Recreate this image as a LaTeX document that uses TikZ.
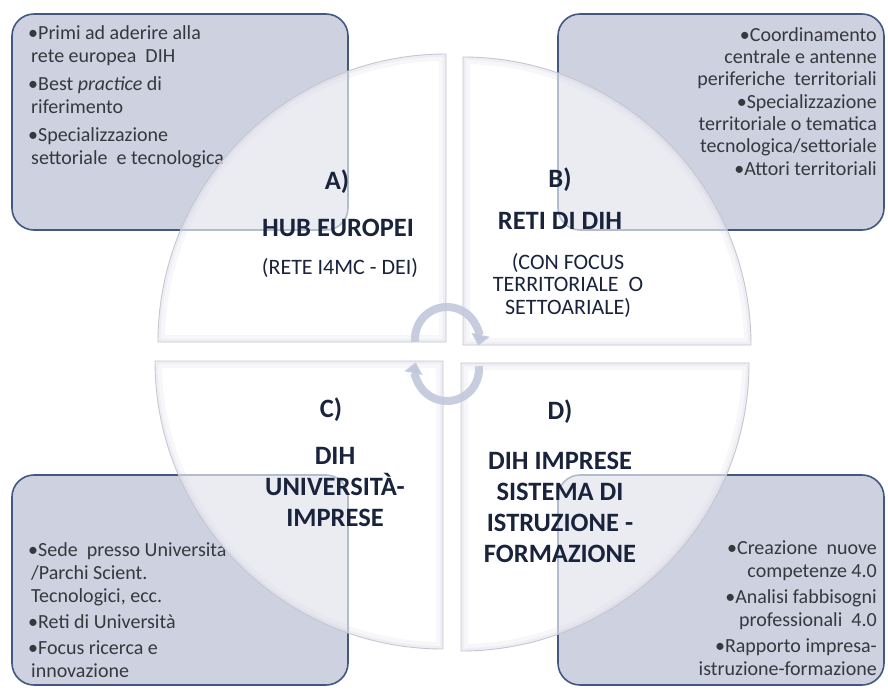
\documentclass[tikz,border=0pt]{standalone}
\usepackage{fontspec}
\setmainfont{Carlito}
\usetikzlibrary{arrows.meta}
\definecolor{boxfill}{RGB}{206,209,224}
\definecolor{boxline}{RGB}{66,88,128}
\definecolor{navy}{RGB}{25,35,60}
\definecolor{btext}{RGB}{55,55,62}
\definecolor{qline}{RGB}{198,198,206}
\definecolor{glow}{RGB}{196,196,222}
\definecolor{arrowc}{RGB}{194,200,220}
\newcommand\drawquad[1]{%
  \fill[white,fill opacity=0.6] #1;
  \begin{scope}
    \clip #1;
    \draw[glow,line width=14pt,opacity=0.12] #1;
    \draw[glow,line width=6pt,opacity=0.18] #1;
  \end{scope}
  \draw[qline,line width=0.9pt] #1;}
\begin{document}
\begin{tikzpicture}[x=1pt,y=1pt,
  infobox/.style={draw=boxline,line width=1.6pt,fill=boxfill,rounded corners=22pt},
  boxtext/.style={font=\fontsize{20}{23.5}\selectfont,text=btext,inner sep=0pt},
  title/.style={font=\fontsize{26.5}{31}\selectfont\bfseries,text=navy,align=center,inner sep=0pt},
  sub/.style={font=\fontsize{22}{22.5}\selectfont,text=navy,align=center,inner sep=0pt},
  cyc/.style={draw=arrowc,line width=8pt,draw opacity=0.9,-{Triangle[width=18pt,length=11pt]}}
]
\useasboundingbox (0,0) rectangle (888,689);
% corner boxes
\draw[infobox] (12,459) rectangle (348,675);
\draw[infobox] (558,459) rectangle (884,675);
\draw[infobox] (12,4) rectangle (348,214);
\draw[infobox] (558,4) rectangle (884,214);
% box texts
\node[boxtext,anchor=north west,align=left] (tltext) at (28,664)
  {•Primi ad aderire alla\\\hspace*{3pt}rete europea\ \ DIH\\[4pt]•Best \textit{practice} di\\\hspace*{3pt}riferimento\\[4pt]•Specializzazione\\\hspace*{3pt}settoriale\ \ e tecnologica};
\node[boxtext,anchor=north east,align=right,font=\fontsize{20}{22}\selectfont] (trtext) at (877,662)
  {•Coordinamento\\centrale e antenne\\periferiche\ \ territoriali\\[1pt]•Specializzazione\\territoriale o tematica\\tecnologica/settoriale\\[1pt]•Attori territoriali};
\node[boxtext,anchor=north west,align=left,font=\fontsize{20}{23}\selectfont] (bltext) at (28,147)
  {•Sede\ \ presso Universita\\\hspace*{3pt}/Parchi Scient.\\\hspace*{3pt}Tecnologici, ecc.\\[3pt]•Reti di Università\\[3pt]•Focus ricerca e\\\hspace*{3pt}innovazione};
\node[boxtext,anchor=north east,align=right,font=\fontsize{20}{22.5}\selectfont] (brtext) at (877,148)
  {•Creazione\ \ nuove\\competenze 4.0\\[4pt]•Analisi fabbisogni\\professionali\ \ 4.0\\[4pt]•Rapporto impresa-\\istruzione-formazione};
% pie quadrants
\drawquad{(446,347) -- ++(-288,0) arc[start angle=180,end angle=90,radius=288] -- cycle}
\drawquad{(463,344) -- ++(0,288) arc[start angle=90,end angle=0,radius=288] -- cycle}
\drawquad{(443,328) -- ++(-288,0) arc[start angle=180,end angle=270,radius=288] -- cycle}
\drawquad{(461,326) -- ++(288,0) arc[start angle=0,end angle=-90,radius=288] -- cycle}
% labels
\node[title] (alab) at (337,507) {A)};
\node[title] (atitle) at (338,461) {HUB EUROPEI};
\node[sub] (asub) at (340,421) {(RETE I4MC - DEI)};
\node[title] (blab) at (560,509) {B)};
\node[title] (btitle) at (560,468) {RETI DI DIH};
\node[sub] (bsub) at (568,404) {(CON FOCUS\\TERRITORIALE\ \ O\\SETTOARIALE)};
\node[title] (clab) at (331,279) {C)};
\node[title] (ctitle) at (335,202) {DIH\\UNIVERSITÀ-\\IMPRESE};
\node[title] (dlab) at (560,277) {D)};
\node[title] (dtitle) at (560,182) {DIH IMPRESE\\SISTEMA DI\\ISTRUZIONE -\\FORMAZIONE};
% cycle arrows
\coordinate (ctop) at (447,350);
\coordinate (cbot) at (447,320);
\draw[cyc] ([shift={(185:32)}]ctop) arc[start angle=185,end angle=-12,radius=32];
\draw[cyc] ([shift={(5:32)}]cbot) arc[start angle=5,end angle=-192,radius=32];
\end{tikzpicture}
\end{document}
